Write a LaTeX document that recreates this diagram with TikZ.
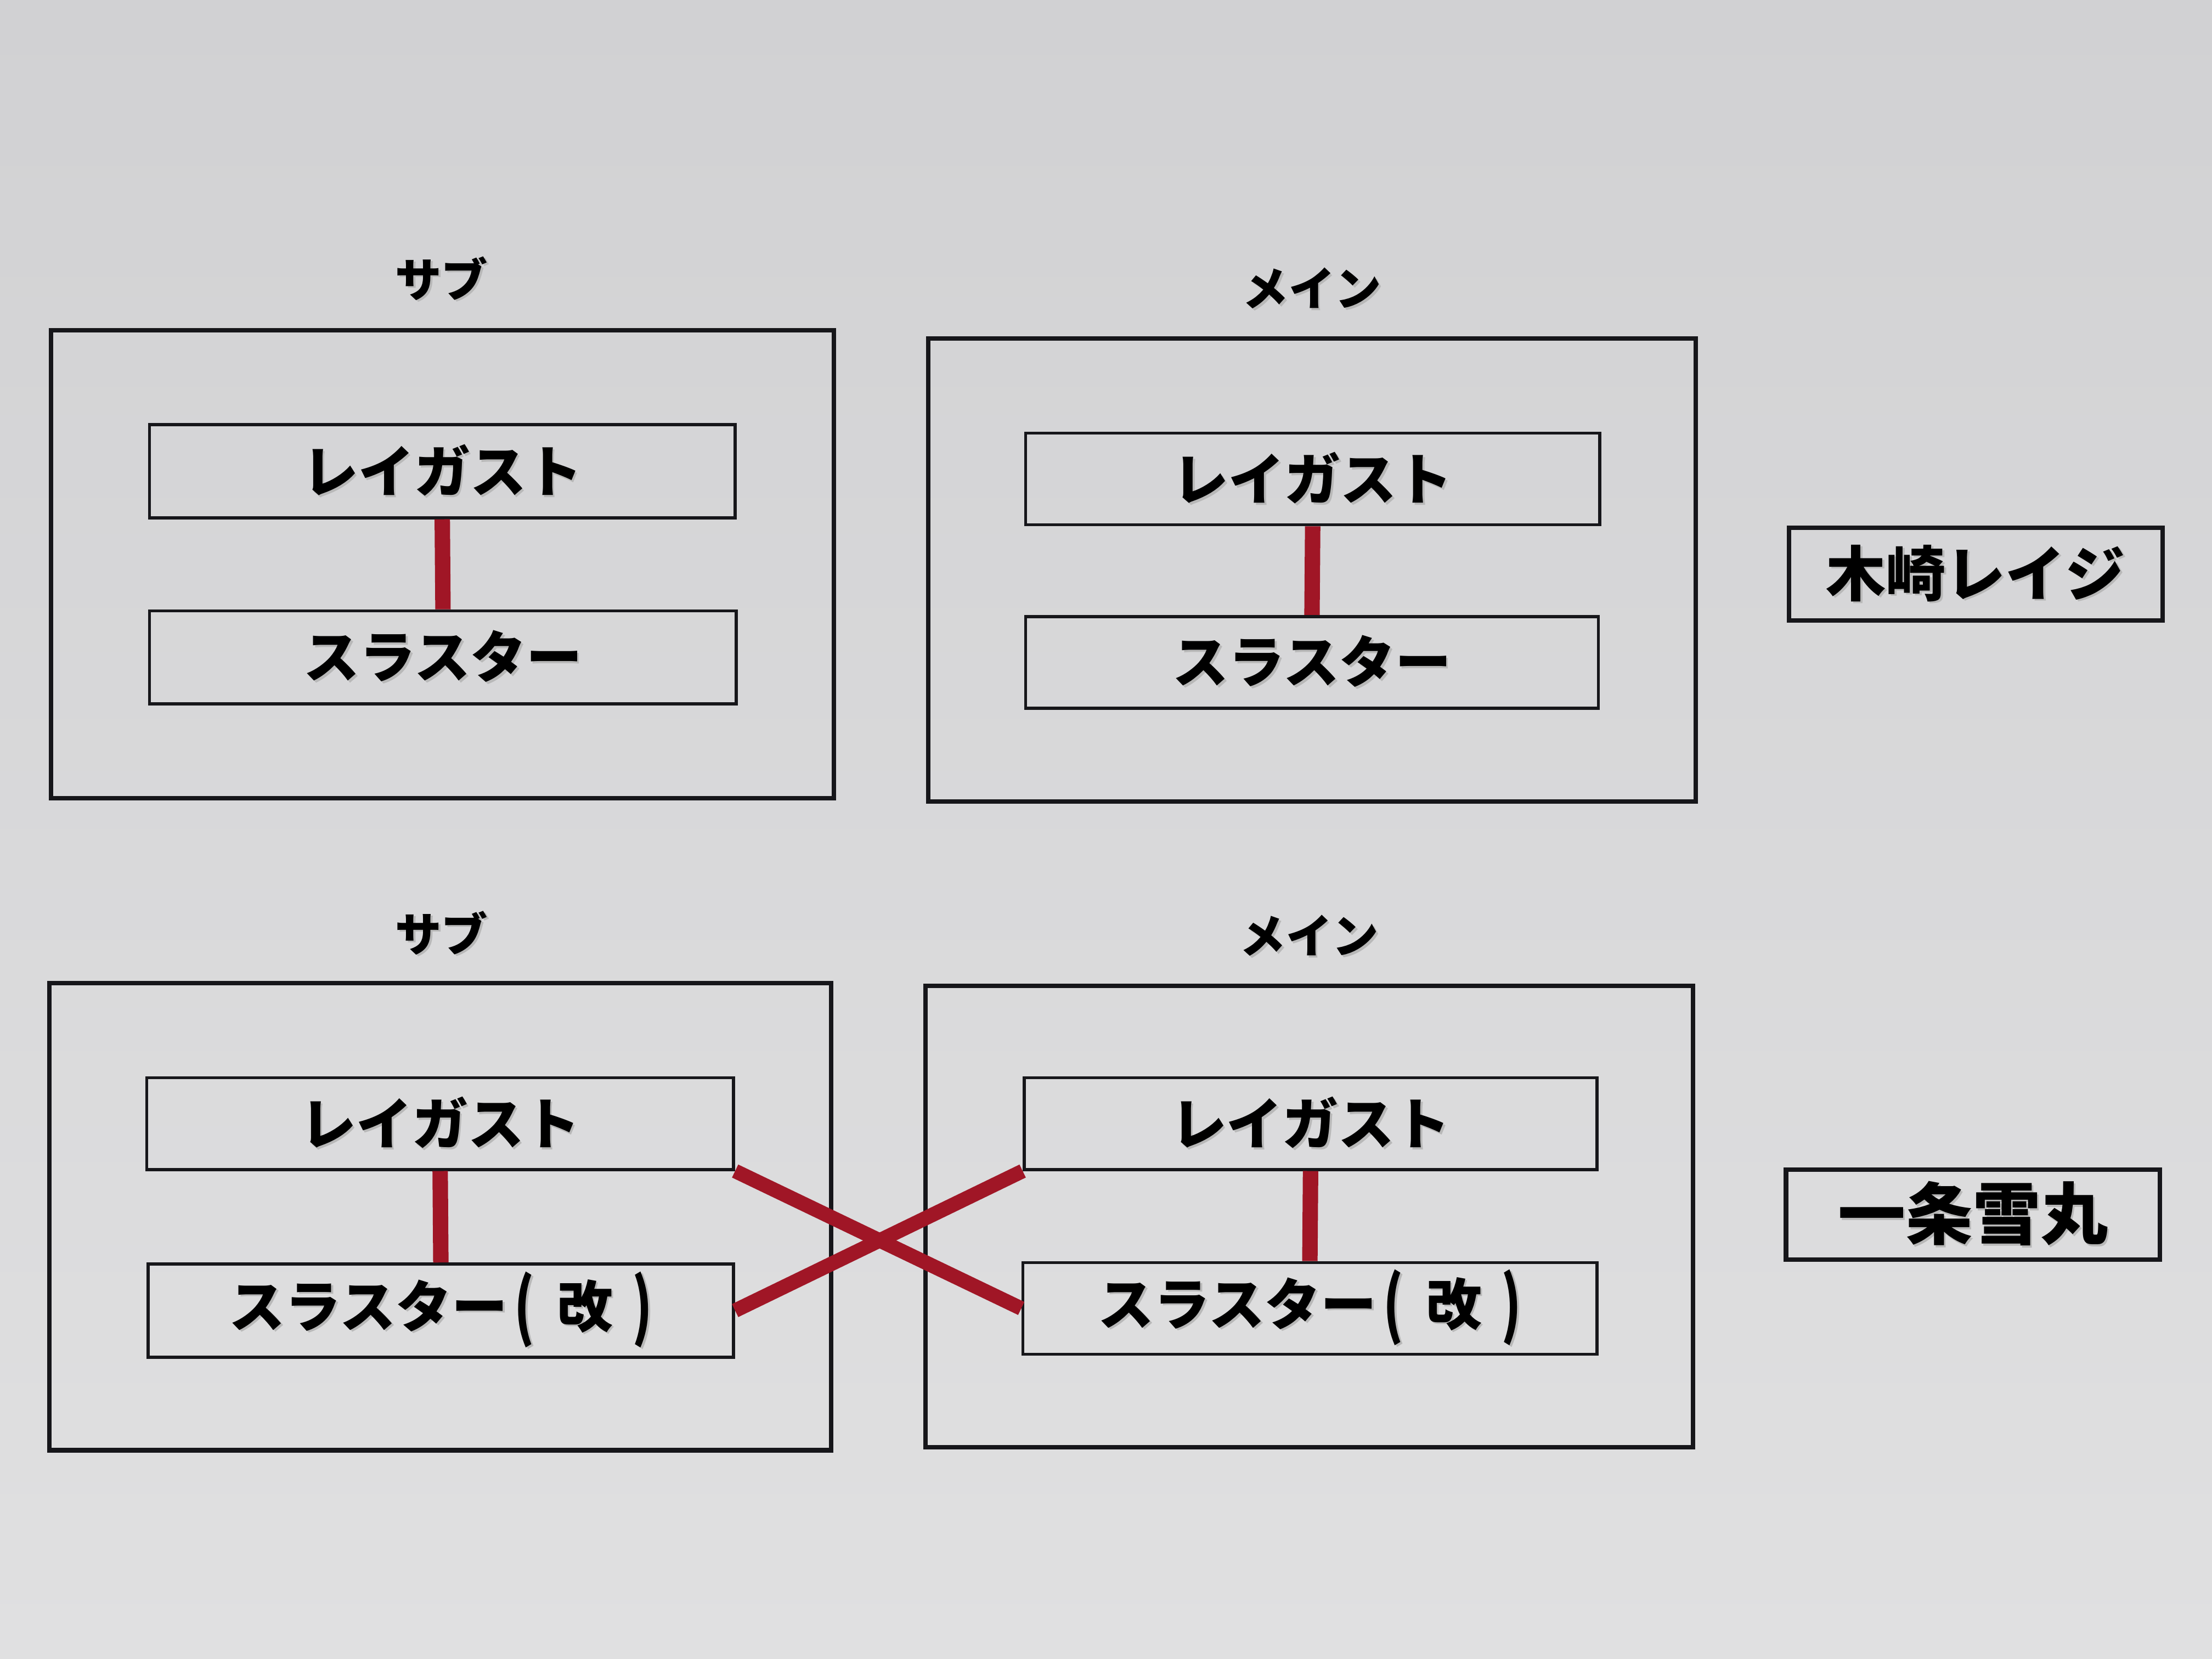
\documentclass[tikz,border=0pt]{standalone}
\usepackage{fontspec}
\usepackage{graphicx}
\newfontfamily\jp{Noto Sans CJK JP}
\newcommand\shtxt[1]{\leavevmode\rlap{\kern1pt\raisebox{-1pt}{\textcolor{black!28}{#1}}}#1}
\definecolor{bgtop}{RGB}{209,209,211}
\definecolor{bgbot}{RGB}{224,224,225}
\definecolor{ink}{RGB}{22,22,26}
\definecolor{redbar}{RGB}{160,22,38}
\tikzset{
  x={(0.025714cm,0)}, y={(0,-0.025714cm)},
  outerbox/.style={draw=ink, line width=2.3pt, inner sep=0pt},
  innerbox/.style={draw=ink, line width=1.6pt, inner sep=0pt, font=\jp\bfseries\fontsize{29pt}{34pt}\selectfont},
  namebox/.style={draw=ink, line width=2.3pt, inner sep=0pt},
  grouplabel/.style={inner sep=0pt, font=\jp\bfseries\fontsize{24pt}{28pt}\selectfont},
  redlink/.style={draw=redbar, line width=8pt},
  crosslink/.style={draw=redbar, line width=7.5pt},
}
\newcommand\tallp[1]{\raisebox{-0.1em}{\scalebox{0.9}[1.3]{#1}}}
\newcommand\kai{スラスター\kern0.12em\tallp{(}\kern0.4em 改\kern0.35em\tallp{)}}
\begin{document}
\begin{tikzpicture}
\shade[top color=bgtop, bottom color=bgbot] (0,0) rectangle (1568,1176);
\useasboundingbox (0,0) rectangle (1568,1176);

% top left group
\node[grouplabel] (lab1) at (313,198) {\shtxt{サブ}};
\node[outerbox, minimum width=555*0.025714cm, minimum height=332*0.025714cm] (o1) at (313.5,400) {};
\node[innerbox, minimum width=415*0.025714cm, minimum height=66*0.025714cm] (a1) at (313.5,334) {\shtxt{レイガスト}};
\node[innerbox, minimum width=416*0.025714cm, minimum height=66*0.025714cm] (b1) at (314,466) {\shtxt{スラスター}};
\draw[redlink] (a1.south) -- (b1.north);

% top right group
\node[grouplabel] (lab2) at (930,205) {\shtxt{メイン}};
\node[outerbox, minimum width=544*0.025714cm, minimum height=328*0.025714cm] (o2) at (930,404) {};
\node[innerbox, minimum width=407*0.025714cm, minimum height=65*0.025714cm] (a2) at (930.5,339.5) {\shtxt{レイガスト}};
\node[innerbox, minimum width=406*0.025714cm, minimum height=65*0.025714cm] (b2) at (930,469.5) {\shtxt{スラスター}};
\draw[redlink] (a2.south) -- (b2.north);

% name 1
\node[namebox, minimum width=265*0.025714cm, minimum height=66*0.025714cm, font=\jp\bfseries\fontsize{31pt}{36pt}\selectfont] (n1) at (1400.5,407) {\shtxt{木崎レイジ}};

% bottom left group
\node[grouplabel] (lab3) at (313,662) {\shtxt{サブ}};
\node[outerbox, minimum width=554*0.025714cm, minimum height=331*0.025714cm] (o3) at (312,862.5) {};
\node[innerbox, minimum width=416*0.025714cm, minimum height=65*0.025714cm] (a3) at (312,796.5) {\shtxt{レイガスト}};
\node[innerbox, minimum width=415*0.025714cm, minimum height=66*0.025714cm] (b3) at (312.5,929) {\shtxt{\kai}};
\draw[redlink] (a3.south) -- (b3.north);

% bottom right group
\node[grouplabel] (lab4) at (928,664) {\shtxt{メイン}};
\node[outerbox, minimum width=544*0.025714cm, minimum height=327*0.025714cm] (o4) at (928,862.5) {};
\node[innerbox, minimum width=406*0.025714cm, minimum height=65*0.025714cm] (a4) at (929,796.5) {\shtxt{レイガスト}};
\node[innerbox, minimum width=407*0.025714cm, minimum height=65*0.025714cm] (b4) at (928.5,927.5) {\shtxt{\kai}};
\draw[redlink] (a4.south) -- (b4.north);

% name 2
\node[namebox, minimum width=265*0.025714cm, minimum height=64*0.025714cm, font=\jp\bfseries\fontsize{35pt}{40pt}\selectfont] (n2) at (1398.5,861) {\shtxt{一条雪丸}};

% cross
\draw[crosslink] (a3.south east) -- (b4.west);
\draw[crosslink] (b3.east) -- (a4.south west);
\end{tikzpicture}
\end{document}
